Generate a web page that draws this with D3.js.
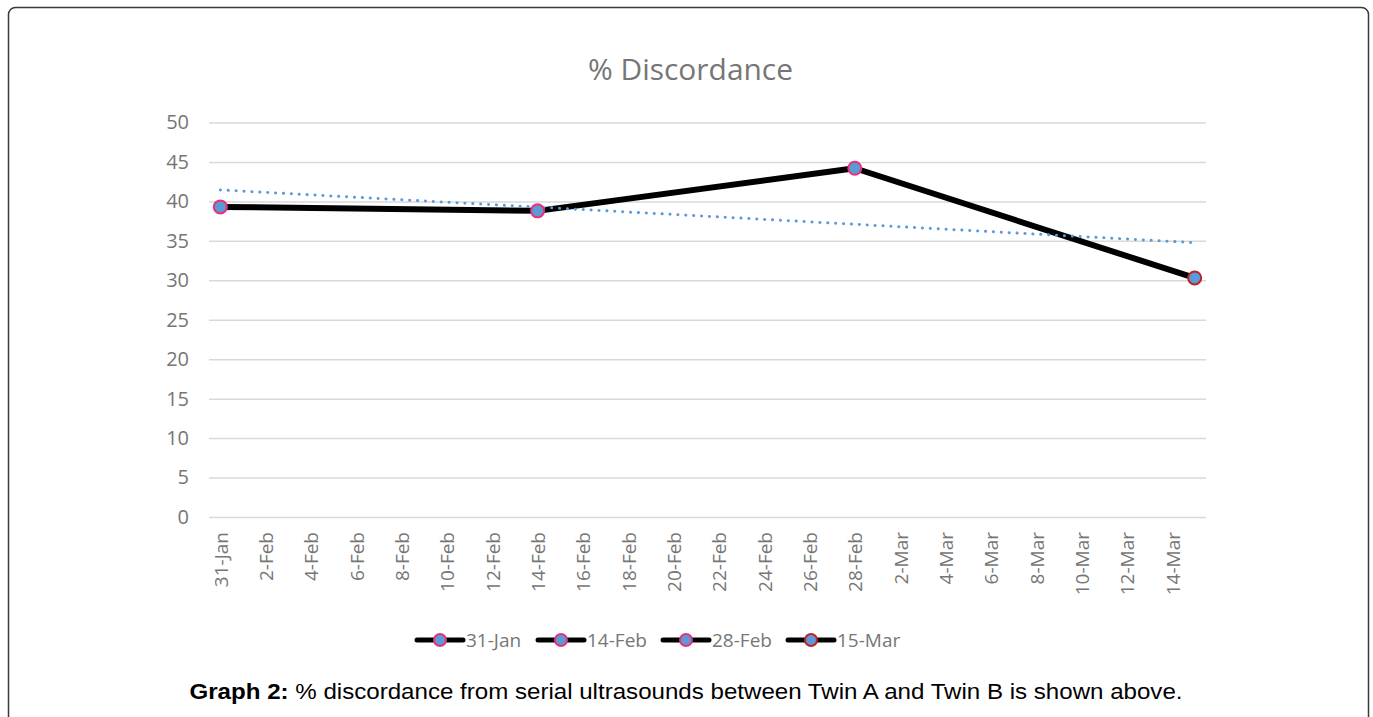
<!DOCTYPE html>
<html>
<head>
<meta charset="utf-8">
<script src="https://cdn.jsdelivr.net/npm/d3@7"></script>
<style>
  html, body { margin: 0; padding: 0; background: #fff; }
  svg { display: block; }
</style>
</head>
<body>
<svg id="chart" width="1373" height="717"></svg>
<script>
// Serial ultrasound dates and % discordance between Twin A and Twin B
const visitDates = ["2015-01-31", "2015-02-14", "2015-02-28", "2015-03-15"];
const visitLabels = ["31-Jan", "14-Feb", "28-Feb", "15-Mar"];
const discordance = [39.3, 38.8, 44.2, 30.3];
const markerStrokes = ["#e8317a", "#e8317a", "#e8317a", "#c0202a"];
const yTicks = [0, 5, 10, 15, 20, 25, 30, 35, 40, 45, 50];

const parse = d3.utcParse("%Y-%m-%d");
const dates = visitDates.map(parse);
const points = dates.map((d, i) => ({ date: d, value: discordance[i], label: visitLabels[i], stroke: markerStrokes[i] }));

const svg = d3.select("#chart");
const DAY = 864e5;

// Outer rounded frame
svg.append("rect")
  .attr("x", 8.5).attr("y", 7.5)
  .attr("width", 1360).attr("height", 730)
  .attr("rx", 7)
  .attr("fill", "#fff")
  .attr("stroke", "#3a3a3a").attr("stroke-width", 1.5);

const plot = { left: 209, right: 1206, top: 122.5, bottom: 517 };

const x = d3.scaleUtc()
  .domain([new Date(+dates[0] - DAY / 2), new Date(+dates[dates.length - 1] + DAY / 2)])
  .range([plot.left, plot.right]);
const y = d3.scaleLinear().domain([0, 50]).range([plot.bottom, plot.top]);

// Title
svg.append("text")
  .attr("x", 690.5).attr("y", 80)
  .attr("text-anchor", "middle")
  .attr("font-family", "Open Sans")
  .attr("font-size", 29)
  .attr("fill", "#767676")
  .attr("textLength", 205)
  .attr("lengthAdjust", "spacingAndGlyphs")
  .text("% Discordance");

// Horizontal gridlines and y tick labels
const yAxis = d3.axisLeft(y).tickValues(yTicks).tickSize(-(plot.right - plot.left)).tickPadding(20);
const gy = svg.append("g").attr("transform", `translate(${plot.left},0)`).call(yAxis);
gy.select(".domain").remove();
gy.selectAll(".tick line").attr("stroke", "#d9d9d9").attr("stroke-width", 1.5);
gy.selectAll(".tick text")
  .attr("font-family", "Open Sans")
  .attr("font-size", 20)
  .attr("fill", "#767676");

// Date axis labels every two days
const tickDates = d3.utcDay.range(dates[0], new Date(+dates[dates.length - 1]), 1)
  .filter((d, i) => i % 2 === 0);
const fmt = d3.utcFormat("%-d-%b");
const xAxis = d3.axisBottom(x).tickValues(tickDates).tickFormat(fmt).tickSize(0);
const gx = svg.append("g").attr("transform", `translate(0,${plot.bottom})`).call(xAxis);
gx.select(".domain").remove();
gx.selectAll(".tick text")
  .attr("font-family", "Open Sans")
  .attr("font-size", 19)
  .attr("fill", "#767676")
  .attr("text-anchor", "end")
  .attr("dy", null)
  .attr("y", null)
  .attr("transform", "translate(7,15) rotate(-90)");

// Linear trend (least squares) across the visits
const xs = dates.map(d => (+d - +dates[0]) / DAY);
const mx = d3.mean(xs), my = d3.mean(discordance);
const slope = d3.sum(xs, (v, i) => (v - mx) * (discordance[i] - my)) / d3.sum(xs, v => (v - mx) ** 2);
const intercept = my - slope * mx;
const trend = [0, xs[xs.length - 1]].map(t => ({ date: new Date(+dates[0] + t * DAY), value: intercept + slope * t }));

const line = d3.line().x(d => x(d.date)).y(d => y(d.value));

svg.append("path")
  .datum(points)
  .attr("d", line)
  .attr("fill", "none")
  .attr("stroke", "#000")
  .attr("stroke-width", 6)
  .attr("stroke-linejoin", "round");

svg.append("path")
  .datum(trend)
  .attr("d", line)
  .attr("fill", "none")
  .attr("stroke", "#5b9bd5")
  .attr("stroke-width", 3)
  .attr("stroke-linecap", "round")
  .attr("stroke-dasharray", "0.1 7.8");

svg.selectAll("circle.pt")
  .data(points)
  .join("circle")
  .attr("class", "pt")
  .attr("cx", d => x(d.date))
  .attr("cy", d => y(d.value))
  .attr("r", 6.5)
  .attr("fill", "#5b9bd5")
  .attr("stroke", d => d.stroke)
  .attr("stroke-width", 2);

// Legend
const legendX = [417, 538, 663, 788];
const legend = svg.append("g");
points.forEach((p, i) => {
  const g = legend.append("g").attr("transform", `translate(${legendX[i]},640)`);
  g.append("line").attr("x1", 0).attr("x2", 46).attr("y1", 0).attr("y2", 0)
    .attr("stroke", "#000").attr("stroke-width", 5).attr("stroke-linecap", "round");
  g.append("circle").attr("cx", 23).attr("cy", 0).attr("r", 6)
    .attr("fill", "#5b9bd5").attr("stroke", p.stroke).attr("stroke-width", 2);
  g.append("text").attr("x", 49).attr("y", 7)
    .attr("font-family", "Open Sans").attr("font-size", 19)
    .attr("fill", "#767676")
    .text(p.label);
});

// Caption
const cap = svg.append("text")
  .attr("x", 686).attr("y", 699)
  .attr("text-anchor", "middle")
  .attr("font-family", "Liberation Sans")
  .attr("font-size", 22)
  .attr("fill", "#000")
  .attr("textLength", 993)
  .attr("lengthAdjust", "spacingAndGlyphs");
cap.append("tspan").attr("font-weight", "bold").text("Graph 2:");
cap.append("tspan").text(" % discordance from serial ultrasounds between Twin A and Twin B is shown above.");
</script>
</body>
</html>
